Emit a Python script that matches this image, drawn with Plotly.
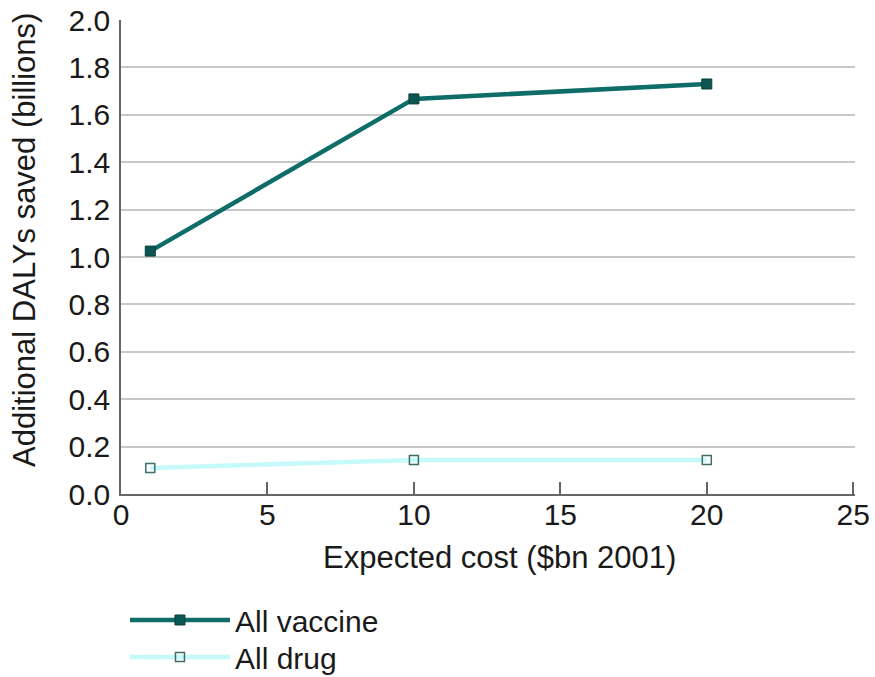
import plotly.graph_objects as go

cost = [1, 10, 20]
vaccine = [1.025, 1.667, 1.73]
drug = [0.11, 0.143, 0.143]

x_ticks = [0, 5, 10, 15, 20, 25]
y_ticks = [0.0, 0.2, 0.4, 0.6, 0.8, 1.0, 1.2, 1.4, 1.6, 1.8, 2.0]

x_title = "Expected cost ($bn 2001)"
y_title = "Additional DALYs saved (billions)"

font = "Liberation Sans, Arial, sans-serif"

fig = go.Figure()
fig.add_trace(go.Scatter(
    x=cost, y=vaccine, name="All vaccine", mode="lines+markers",
    line=dict(color="#0e6d68", width=4.5),
    marker=dict(symbol="square", size=10, color="#0b5652", line=dict(color="#083f3c", width=1)),
    legend="legend",
))
fig.add_trace(go.Scatter(
    x=cost, y=drug, name="All drug", mode="lines+markers",
    line=dict(color="#c6fafa", width=4.5),
    marker=dict(symbol="square-open", size=9, color="#3e6e6c", line=dict(width=1.5)),
    legend="legend2",
))

leg_common = dict(xanchor="left", yanchor="middle", font=dict(size=30),
                  itemwidth=100, bgcolor="rgba(0,0,0,0)")

fig.update_layout(
    width=875, height=677,
    margin=dict(l=121, r=20, t=20, b=183, autoexpand=False),
    paper_bgcolor="white", plot_bgcolor="white",
    font=dict(family=font, size=30, color="#1a1a1a"),
    showlegend=True,
    legend=dict(x=0.0054, y=-0.2658, **leg_common),
    legend2=dict(x=0.0054, y=-0.3439, **leg_common),
    xaxis=dict(
        range=[0, 25.06], tickvals=x_ticks, ticktext=[str(v) for v in x_ticks],
        showgrid=False, zeroline=False, showline=True, linecolor="#666", linewidth=1.5,
        ticks="inside", ticklen=12, tickcolor="#666", tickwidth=1.5,
        tickfont=dict(size=30), automargin=False, ticklabeloverflow="allow",
        ticklabelstandoff=-7,
    ),
    yaxis=dict(
        range=[0, 2.0], tickvals=y_ticks, ticktext=[f"{v:.1f}" for v in y_ticks],
        showgrid=True, gridcolor="#c8c8c8", gridwidth=1.5,
        zeroline=False, showline=True, linecolor="#666", linewidth=1.5,
        ticks="", tickfont=dict(size=30), automargin=False, ticklabelstandoff=3,
        ticklabeloverflow="allow",
    ),
    annotations=[
        dict(text=x_title, xref="paper", yref="paper", x=0.515, y=-0.135,
             xanchor="center", yanchor="middle", showarrow=False, font=dict(size=31)),
        dict(text=y_title, xref="paper", yref="paper", x=-0.1308, y=0.536,
             xanchor="center", yanchor="middle", textangle=-90, showarrow=False,
             font=dict(size=31)),
    ],
)

fig.write_html("out.html", config={"displayModeBar": False},
               post_script="document.body.style.margin='0';document.body.style.overflow='hidden';")
